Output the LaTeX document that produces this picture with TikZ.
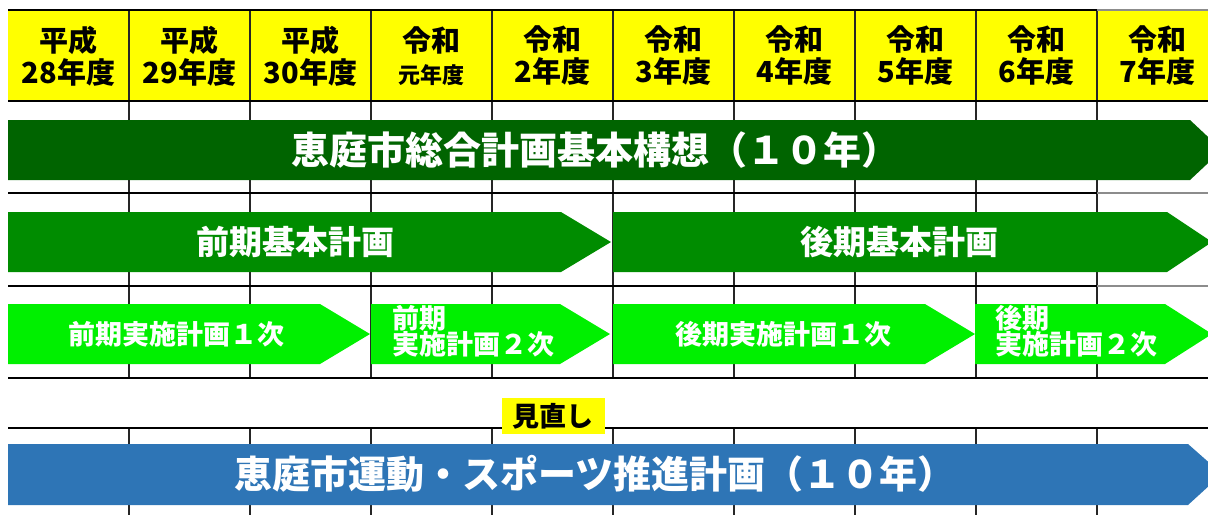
\documentclass[tikz,border=0pt]{standalone}
\usepackage{fontspec}
\newfontfamily\jpfont{Noto Sans CJK JP}

\definecolor{nendo}{HTML}{FFFF00}
\definecolor{koso}{HTML}{006400}
\definecolor{kihon}{HTML}{008C00}
\definecolor{jisshi}{HTML}{00F000}
\definecolor{undo}{HTML}{2E75B6}

\tikzset{
	hline/.style={line width=2pt,black},
	hlinegray/.style={line width=1.5pt,black!45},
	vline/.style={line width=1.3pt,black!85},
	nendotext/.style={font=\jpfont\bfseries\fontsize{29}{32}\selectfont,align=center,inner sep=0pt},
	titletext/.style={text=white,font=\jpfont\bfseries\fontsize{38}{38}\selectfont,inner sep=0pt},
	kihontext/.style={text=white,font=\jpfont\bfseries\fontsize{33}{33}\selectfont,inner sep=0pt},
	jisshitext/.style={text=white,font=\jpfont\bfseries\fontsize{27}{26}\selectfont,inner sep=0pt,align=left}
}

\begin{document}
\begin{tikzpicture}[x=1pt,y=-1pt]
		\useasboundingbox (0,0) rectangle (1208,515);
		
		% Jahreskopf
		\fill[nendo] (8,10) rectangle (1208,101);
		\foreach \x in {129,250,...,1097}
			\draw[vline] (\x,10) -- (\x,378) (\x,428) -- (\x,515);
		\foreach \y in {10,101,193,286,378,428}
			\draw[hline] (8,\y) -- (1097,\y);
		\foreach \y in {10,193,286}
			\draw[hlinegray] (1097,\y) -- (1208,\y);
		\foreach \y in {101,378,428}
			\draw[hline] (1097,\y) -- (1208,\y);
		\foreach \i/\era/\yr in {0/平成/28年度,1/平成/29年度,2/平成/30年度,
				3/令和/{{\fontsize{22}{22}\selectfont 元年度}},4/令和/2年度,5/令和/3年度,
				6/令和/4年度,7/令和/5年度,8/令和/6年度,9/令和/7年度}
			\node[nendotext] (nendo\i) at (68.5+121*\i,56) {\era\\\yr};
		
		% Pfeile
		\fill[koso] (8,120) -- (1190,120) -- (1222,150) -- (1190,180) -- (8,180) -- cycle;
		\node[titletext] (koso) at (595,150) {恵庭市総合計画基本構想（１０年）};
		
		\fill[kihon] (8,212) -- (561,212) -- (611,242) -- (561,272) -- (8,272) -- cycle;
		\node[kihontext] (zenki) at (295,242) {前期基本計画};
		\fill[kihon] (613,212) -- (1167,212) -- (1212,242) -- (1167,272) -- (613,272) -- cycle;
		\node[kihontext] (koki) at (899,242) {後期基本計画};
		
		\fill[jisshi] (8,304) -- (320,304) -- (370,334) -- (320,364) -- (8,364) -- cycle;
		\node[jisshitext] (zenki1) at (176,334) {前期実施計画１次};
		\fill[jisshi] (371,304) -- (560,304) -- (610,334) -- (560,364) -- (371,364) -- cycle;
		\node[jisshitext,anchor=west] (zenki2) at (392,331) {前期\\実施計画２次};
		\fill[jisshi] (613,304) -- (925,304) -- (975,334) -- (925,364) -- (613,364) -- cycle;
		\node[jisshitext] (koki1) at (783,334) {後期実施計画１次};
		\fill[jisshi] (975,304) -- (1165,304) -- (1212,334) -- (1165,364) -- (975,364) -- cycle;
		\node[jisshitext,anchor=west] (koki2) at (995,331) {後期\\実施計画２次};
		
		\node[fill=nendo,minimum width=103,minimum height=36,inner sep=0pt,
			font=\jpfont\bfseries\fontsize{27}{27}\selectfont] (minaoshi) at (553,416) {見直し};
		
		\fill[undo] (8,444) -- (1188,444) -- (1222,474) -- (1188,505) -- (8,505) -- cycle;
		\node[titletext] (undo) at (595,474) {恵庭市運動・スポーツ推進計画（１０年）};
		
		\end{tikzpicture}
\end{document}
